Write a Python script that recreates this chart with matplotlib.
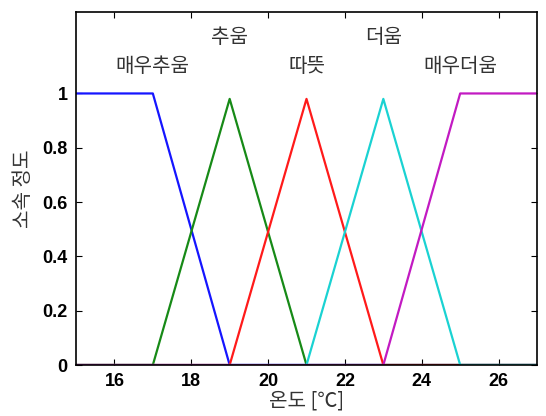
import matplotlib
matplotlib.use("Agg")
import matplotlib.pyplot as plt

plt.rcParams['font.family'] = ['Liberation Sans', 'Noto Sans CJK KR', 'DejaVu Sans']

# membership function breakpoints (temperature, degree)
very_cold_x = [15, 17, 19, 27]
very_cold_y = [1, 1, 0, 0]
cold_x = [15, 17, 19, 21, 27]
cold_y = [0, 0, 0.98, 0, 0]
warm_x = [15, 19, 21, 23, 27]
warm_y = [0, 0, 0.98, 0, 0]
hot_x = [15, 21, 23, 25, 27]
hot_y = [0, 0, 0.98, 0, 0]
very_hot_x = [15, 23, 25, 27]
very_hot_y = [0, 0, 1, 1]

labels = ['매우추움', '추움', '따뜻', '더움', '매우더움']
label_x = [17, 19, 21, 23, 25]
label_y = [1.10, 1.205, 1.10, 1.205, 1.10]

fig = plt.figure(figsize=(5.46, 4.16), dpi=100)
ax = fig.add_axes([76/546, 51/416, 461/546, 353/416])

series = [(very_cold_x, very_cold_y, '#1515ff'),
          (cold_x, cold_y, '#178a17'),
          (warm_x, warm_y, '#ff1a1a'),
          (hot_x, hot_y, '#1ad2d2'),
          (very_hot_x, very_hot_y, '#c21ac2')]
for xs, ys, c in series:
    ax.plot(xs, ys, color=c, lw=1.6)

for t, x, y in zip(labels, label_x, label_y):
    ax.text(x, y, t, ha='center', va='center', fontsize=14.5,
            family=['Noto Sans CJK KR'], color='#333333')

ax.set_xlim(15, 27)
ax.set_ylim(0, 1.3)
ax.set_xticks([16, 18, 20, 22, 24, 26])
ax.set_yticks([0, 0.2, 0.4, 0.6, 0.8, 1])
ax.set_yticklabels(['0', '0.2', '0.4', '0.6', '0.8', '1'])
ax.tick_params(direction='in', top=True, right=True, length=4, width=0.8,
               labelsize=13, pad=6)
for lab in ax.get_xticklabels() + ax.get_yticklabels():
    lab.set_fontweight('bold')
for s in ax.spines.values():
    s.set_linewidth(1.2)

ax.set_xlabel('온도 [℃]', fontsize=14.5, family=['Noto Sans CJK KR', 'DejaVu Sans'],
              color='#333333', labelpad=0)
ax.set_ylabel('소속 정도', fontsize=14.5, family=['Noto Sans CJK KR'],
              color='#333333', labelpad=6)

fig.savefig('out.png', dpi=100)
